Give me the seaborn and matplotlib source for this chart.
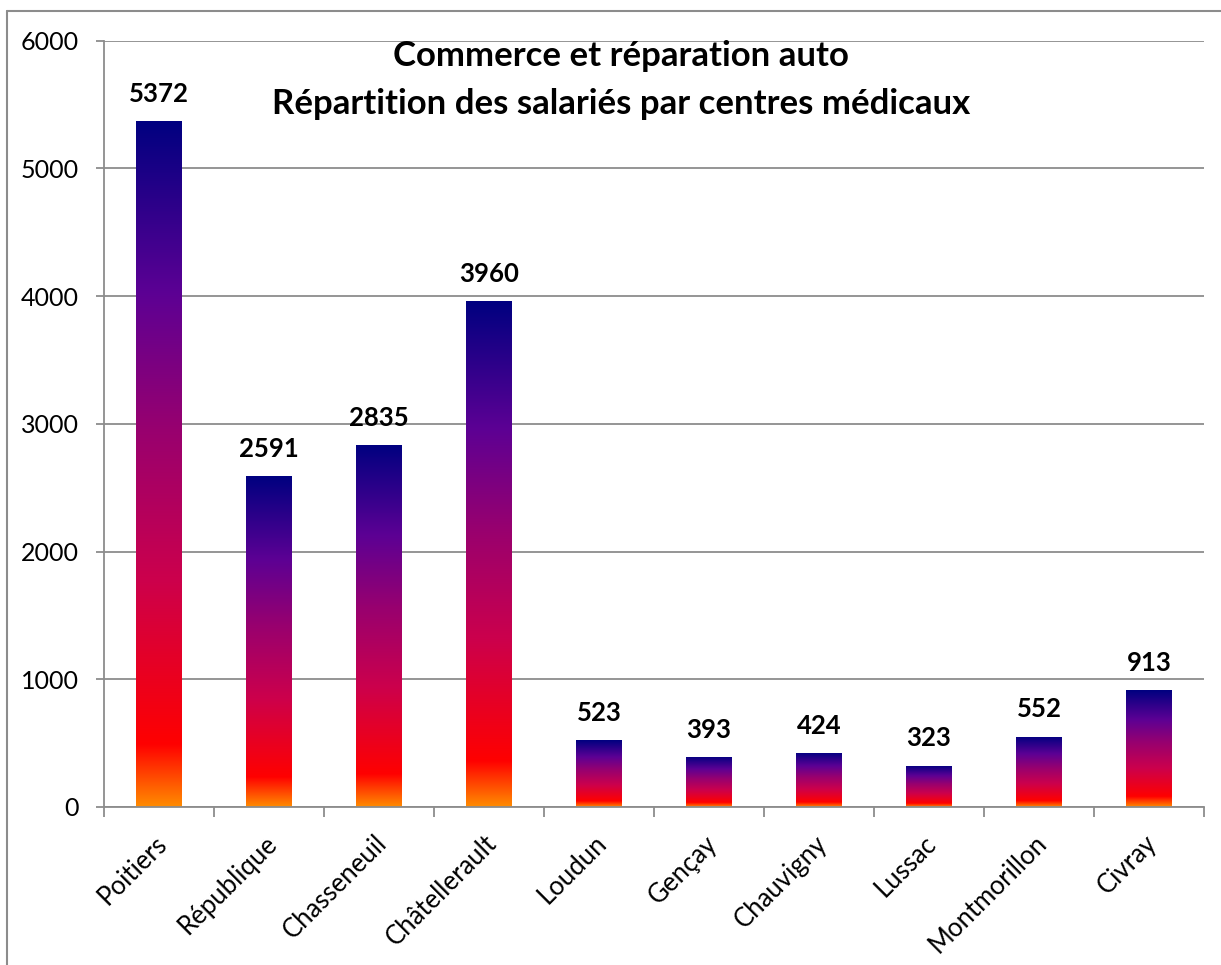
import numpy as np
import pandas as pd
import matplotlib
matplotlib.use("Agg")
import matplotlib.pyplot as plt
import matplotlib.transforms as mtransforms
import seaborn as sns
from matplotlib.colors import LinearSegmentedColormap
from matplotlib.lines import Line2D

# Data
centres = ["Poitiers", "République", "Chasseneuil", "Châtellerault", "Loudun",
           "Gençay", "Chauvigny", "Lussac", "Montmorillon", "Civray"]
salaries = [5372, 2591, 2835, 3960, 523, 393, 424, 323, 552, 913]
title_lines = ["Commerce et réparation auto",
               "Répartition des salariés par centres médicaux"]
y_ticks = [0, 1000, 2000, 3000, 4000, 5000, 6000]

sns.set_theme(style="white")
plt.rcParams["font.family"] = ["Lato", "DejaVu Sans"]
plt.rcParams["text.color"] = "black"
plt.rcParams["xtick.labelcolor"] = "black"
plt.rcParams["ytick.labelcolor"] = "black"

df = pd.DataFrame({"centre": centres, "salaries": salaries})

W, H = 1221, 965
fig = plt.figure(figsize=(W / 100, H / 100), dpi=100)
ax = fig.add_axes([104 / W, 1 - 807 / H, 1100 / W, (807 - 40.7) / H])

sns.barplot(data=df, x="centre", y="salaries", ax=ax, width=0.41,
            color="#000080", saturation=1, errorbar=None)

grey = "#8c8c8c"
ax.set_ylim(0, 6000)
ax.set_xlim(-0.5, len(centres) - 0.5)
ax.set_yticks(y_ticks)
ax.set_yticklabels([str(t) for t in y_ticks], fontsize=18)
ax.yaxis.grid(True, color=grey, linewidth=1.3)
ax.set_axisbelow(True)
for side in ["top", "right"]:
    ax.spines[side].set_visible(False)
for side in ["left", "bottom"]:
    ax.spines[side].set_color(grey)
    ax.spines[side].set_linewidth(1.3)
ax.set_xlabel("")
ax.set_ylabel("")

ax.tick_params(axis="y", which="major", left=True, length=6, width=1.3,
               color=grey, pad=12)
ax.set_xticks(range(len(centres)))
ax.set_xticklabels(centres, rotation=45, ha="right", va="top",
                   rotation_mode="anchor", fontsize=18.5)
ax.tick_params(axis="x", which="major", length=0, pad=17)
shift = mtransforms.ScaledTranslation(-5 / 100, 0, fig.dpi_scale_trans)
for lab in ax.get_xticklabels():
    lab.set_transform(lab.get_transform() + shift)
ax.set_xticks(np.arange(-0.5, len(centres), 1.0), minor=True)
ax.tick_params(axis="x", which="minor", bottom=True, length=7, width=1.3,
               color=grey)

# Vertical gradient fill: orange at the base, through red and purple to navy
fire = LinearSegmentedColormap.from_list("fire", [
    (0.00, "#ff8a00"),
    (0.09, "#ff0000"),
    (0.33, "#cc004c"),
    (0.55, "#98006f"),
    (0.75, "#5c0094"),
    (1.00, "#000080"),
])
grad = np.linspace(0, 1, 256).reshape(-1, 1)
for patch in ax.patches:
    x0, y0 = patch.get_x(), patch.get_y()
    w, h = patch.get_width(), patch.get_height()
    patch.set_facecolor("none")
    patch.set_edgecolor("none")
    im = ax.imshow(grad, cmap=fire, origin="lower", aspect="auto",
                   extent=[x0, x0 + w, y0, y0 + h], zorder=2,
                   interpolation="bilinear")
    im.set_clip_path(patch)
ax.set_xlim(-0.5, len(centres) - 0.5)
ax.set_ylim(0, 6000)

for i, v in enumerate(salaries):
    ax.annotate(str(v), (i, v), xytext=(0, 11), textcoords="offset points",
                ha="center", va="bottom", fontsize=18.5, fontweight="bold",
                color="black")

fig.text(621 / W, 1 - 56 / H, title_lines[0], ha="center", va="center",
         fontsize=25, fontweight="bold")
fig.text(621 / W, 1 - 104 / H, title_lines[1], ha="center", va="center",
         fontsize=25, fontweight="bold")

# Chart frame
fig.add_artist(Line2D([7 / W, 7 / W], [0, 1 - 11 / H], color=grey,
                      linewidth=1.5, transform=fig.transFigure))
fig.add_artist(Line2D([7 / W, 1], [1 - 11 / H, 1 - 11 / H], color=grey,
                      linewidth=1.5, transform=fig.transFigure))

fig.savefig("out.png", dpi=100, facecolor="white")
